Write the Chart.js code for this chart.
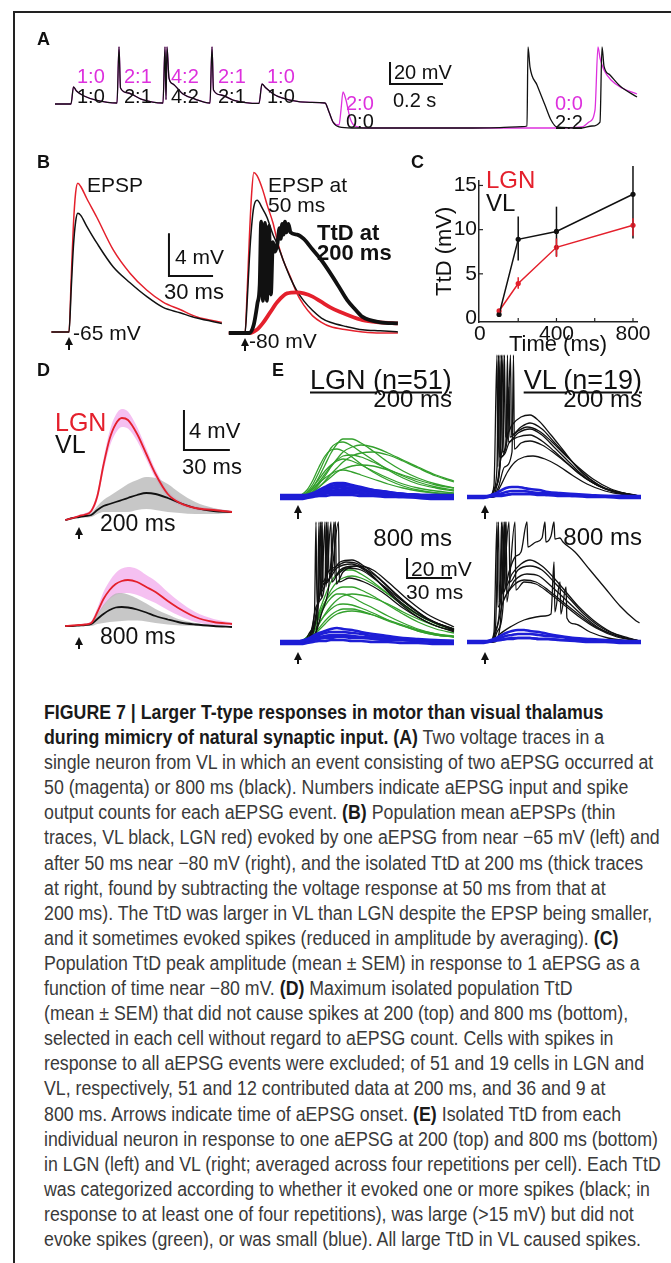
<!DOCTYPE html>
<html>
<head>
<meta charset="utf-8">
<title>Figure 7</title>
<script src="https://cdn.jsdelivr.net/npm/chart.js@4.4.1/dist/chart.umd.min.js"></script>
<style>
  html, body { margin: 0; padding: 0; background: #fff; }
  body { position: relative; width: 671px; height: 1263px; overflow: hidden; font-family: "Liberation Sans", Arial, Helvetica, sans-serif; color: #111; }
  #frame { position: absolute; left: 13px; top: 11px; width: 700px; height: 1300px; border-left: 2px solid #222; border-top: 2px solid #222; }
  canvas { position: absolute; }
  .lbl { position: absolute; white-space: nowrap; line-height: 1; transform: translateY(-50%); }
  #caption { position: absolute; left: 44px; top: 700px; line-height: 25.1px; white-space: nowrap; color: #3a3a3a; }
  #caption b { color: #1a1a1a; }
</style>
</head>
<body>
<div id="frame"></div>
<div id="caption"><b>FIGURE 7 | Larger T-type responses in motor than visual thalamus</b><br><b>during mimicry of natural synaptic input. (A)</b> Two voltage traces in a<br>single neuron from VL in which an event consisting of two aEPSG occurred at<br>50 (magenta) or 800 ms (black). Numbers indicate aEPSG input and spike<br>output counts for each aEPSG event. <b>(B)</b> Population mean aEPSPs (thin<br>traces, VL black, LGN red) evoked by one aEPSG from near −65 mV (left) and<br>after 50 ms near −80 mV (right), and the isolated TtD at 200 ms (thick traces<br>at right, found by subtracting the voltage response at 50 ms from that at<br>200 ms). The TtD was larger in VL than LGN despite the EPSP being smaller,<br>and it sometimes evoked spikes (reduced in amplitude by averaging). <b>(C)</b><br>Population TtD peak amplitude (mean ± SEM) in response to 1 aEPSG as a<br>function of time near −80 mV. <b>(D)</b> Maximum isolated population TtD<br>(mean ± SEM) that did not cause spikes at 200 (top) and 800 ms (bottom),<br>selected in each cell without regard to aEPSG count. Cells with spikes in<br>response to all aEPSG events were excluded; of 51 and 19 cells in LGN and<br>VL, respectively, 51 and 12 contributed data at 200 ms, and 36 and 9 at<br>800 ms. Arrows indicate time of aEPSG onset. <b>(E)</b> Isolated TtD from each<br>individual neuron in response to one aEPSG at 200 (top) and 800 ms (bottom)<br>in LGN (left) and VL (right; averaged across four repetitions per cell). Each TtD<br>was categorized according to whether it evoked one or more spikes (black; in<br>response to at least one of four repetitions), was large (&gt;15 mV) but did not<br>evoke spikes (green), or was small (blue). All large TtD in VL caused spikes.</div>
<script>
// ---------- dados ----------
// A: tensão (s, mV) - parte comum e finais diferentes
var aShared = [[0,-65],[0.0604,-65],[0.0698,-49.5],[0.0811,-53.2],[0.1094,-57.7],[0.1547,-61.4],[0.234,-64.1],[0.2415,-13],[0.2472,-50.5],[0.2755,-55],[0.3245,-60.5],[0.4075,-64.1],[0.4151,-13],[0.4189,-61],[0.4226,-13],[0.4302,-41.4],[0.4453,-46.8],[0.483,-55.9],[0.5283,-60.5],[0.5849,-64.1],[0.5925,-13],[0.5981,-52.3],[0.6264,-56.8],[0.6717,-61.4],[0.7698,-64.5],[0.7811,-46.8],[0.7962,-50.5],[0.8302,-56.8],[0.8868,-61.4],[0.9623,-63.6],[1.0189,-64.1]];
var aBlackTail = [[1.034,-72.3],[1.049,-81.4],[1.0717,-85.9],[1.1208,-86.8],[1.4906,-86.8],[1.6792,-86.4],[1.7623,-85.5],[1.7811,-85],[1.7849,-13],[1.7925,-31.4],[1.8189,-47.7],[1.849,-65.9],[1.8717,-79.5],[1.8943,-85.9],[1.9887,-86.8],[2.0264,-85],[2.0566,-81.4],[2.0642,-13],[2.0717,-30.5],[2.0943,-38.6],[2.1321,-48.6],[2.1962,-58.6]];
var aMagentaTail = [[1.034,-72.3],[1.049,-81.4],[1.0717,-84.1],[1.0792,-70.5],[1.0868,-54.1],[1.0981,-61.4],[1.1132,-77.7],[1.1321,-85],[1.1811,-86.8],[1.8679,-86.8],[1.9887,-85.9],[2.0151,-81.4],[2.0377,-70.5],[2.049,-13],[2.0566,-23.2],[2.0717,-34.1],[2.0981,-43.2],[2.1396,-50.5],[2.1962,-55.9]];
var aCounts50 = ['1:0', '2:1', '4:2', '2:1', '1:0'];
var aCounts800 = ['1:0', '2:1', '4:2', '2:1', '1:0'];

// B: aEPSP médios (ms, mV acima do repouso)
var bLeftT = [-12, 0, 1.5, 3, 4.5, 6, 8, 12, 19, 30, 41.5, 53, 64, 75.5, 87, 104];
var bLeftLgn = [0, 0, 5, 10, 13, 13.9, 13.6, 12.5, 10.7, 7.7, 5.5, 3.9, 2.8, 2.1, 1.4, 0.9];
var bLeftVl = [0, 0, 4, 8, 10.3, 11.1, 10.9, 9.9, 8.3, 6.1, 4.6, 3.3, 2.3, 1.8, 1.3, 0.8];
var bRightT = [-11, 0, 1.5, 3, 4.5, 6, 8.2, 12, 15, 19, 22, 26, 31, 35, 40, 46, 52, 58, 69, 80, 92, 104];
var bRightLgn = [0, 0, 4, 9, 13, 15, 14.7, 13.4, 12, 10.3, 8.6, 6.8, 5.2, 3.8, 2.6, 1.6, 1.0, 0.6, 0.3, 0.1, 0, 0];
var bRightVl = [0, 0, 3, 7, 10, 11.8, 12.4, 11.6, 10.8, 9.2, 8.3, 6.8, 5.1, 4.0, 3.0, 2.1, 1.4, 1.0, 0.6, 0.3, 0.2, 0.1];
var bTtdVl = [[-11,0],[3,0],[6,0.8],[8.5,2.8],[10,4.5],[11,10.4],[12.2,3],[13.6,10.3],[14.9,3],[16.3,10],[17.6,3.6],[19,8.5],[20.5,7.6],[22,8.3],[23.5,9.8],[24.3,8.8],[25.3,10.2],[26.2,9.2],[27.2,10.4],[28.2,9.4],[29.5,10.2],[31,9.4],[35.4,9.2],[40,8.8],[46,7.8],[52,6.8],[58,5.6],[64,4.3],[69.4,3.1],[75,2.2],[80,1.5],[92,1.0],[104,0.9]];
var bTtdLgn = [[-11,0],[3,0],[8,0.3],[12,0.9],[17,1.9],[22,2.9],[28.6,3.7],[35.4,3.8],[40,3.7],[46,3.4],[52,2.9],[58,2.4],[64,2.0],[69.4,1.7],[80,1.2],[92,1.0],[104,0.9]];

// C: pico do TtD (média e limites do SEM)
var cTime = [100, 200, 400, 800];
var cVlMean = [0.4, 8.9, 9.8, 14.0];
var cVlHi = [0.6, 11.5, 12.6, 17.6];
var cVlLo = [0.2, 6.5, 7.0, 9.0];
var cLgnMean = [0.8, 3.9, 8.0, 10.5];
var cLgnHi = [1.0, 4.6, 9.0, 11.3];
var cLgnLo = [0.6, 3.3, 6.9, 9.3];
var cYTicks = [0, 5, 10, 15];
var cXTicks = [0, 400, 800];
var cXMarks = [200, 400, 600, 800];

// D: TtD populacional (ms, mV) média e SEM
var dT = [-9, -4, 0, 4, 8, 12, 16, 20, 24, 28, 32, 38, 44, 50, 58, 66, 76, 88, 100];
var d200Lgn = [-0.1, 0.1, 0.3, 0.45, 0.8, 2.3, 5.4, 8.0, 9.5, 10.1, 9.9, 8.5, 6.5, 4.5, 2.5, 1.6, 1.1, 0.9, 0.7];
var d200LgnSem = [0.1, 0.1, 0.1, 0.15, 0.2, 0.4, 0.6, 0.8, 0.9, 0.9, 0.85, 0.7, 0.55, 0.45, 0.35, 0.25, 0.2, 0.15, 0.1];
var d200Vl = [-0.1, 0.1, 0.2, 0.3, 0.4, 0.9, 1.3, 1.5, 1.7, 1.9, 2.1, 2.4, 2.6, 2.5, 2.1, 1.6, 1.1, 0.8, 0.7];
var d200VlSem = [0.05, 0.05, 0.1, 0.15, 0.2, 0.4, 0.6, 0.8, 1.0, 1.2, 1.4, 1.5, 1.6, 1.6, 1.4, 1.0, 0.6, 0.3, 0.1];
var d800Lgn = [0, 0.05, 0.1, 0.15, 0.3, 1.4, 2.7, 3.6, 4.2, 4.5, 4.6, 4.4, 3.9, 3.4, 2.5, 1.7, 0.9, 0.4, 0.2];
var d800LgnSem = [0.05, 0.05, 0.05, 0.1, 0.2, 0.4, 0.7, 0.9, 1.1, 1.25, 1.3, 1.3, 1.2, 1.1, 0.9, 0.7, 0.5, 0.3, 0.15];
var d800Vl = [0, 0, 0.05, 0.1, 0.2, 0.7, 1.2, 1.6, 1.85, 1.9, 1.85, 1.65, 1.35, 1.0, 0.65, 0.35, 0.15, 0.0, -0.1];
var d800VlSem = [0, 0, 0.05, 0.1, 0.2, 0.5, 0.9, 1.2, 1.4, 1.4, 1.3, 1.1, 0.9, 0.7, 0.5, 0.3, 0.15, 0.05, 0];

// E: TtD de cada neurônio (ms, mV)
var eT = [-12, -2, 2, 6, 10, 14, 18, 22, 26, 30, 36, 42, 50, 60, 70, 80, 92, 104];
var eLgn200Green = [
  [0,0,1,4,10,20,32,44,53,58,58,54,46,35,26,19,13,9],
  [0,0,1,5,13,25,38,49,54,55,51,45,37,27,19,13,9,6],
  [0,0,0,2,6,13,21,30,38,45,50,52,50,44,37,30,22,16],
  [0,0,2,7,17,30,41,47,48,46,40,33,25,17,11,7,4,3],
  [0,0,0,2,5,10,16,23,29,35,41,44,45,42,36,29,21,15],
  [0,0,1,4,10,18,26,32,36,38,36,32,26,19,13,9,6,4],
  [0,0,0,2,5,10,15,20,25,28,31,32,31,27,22,17,12,9],
  [0,0,1,3,8,14,19,23,26,27,25,22,18,13,9,6,4,3],
  [0,0,1,3,8,15,23,31,37,41,42,40,35,28,21,15,10,7]
];
var eLgn200Blue = [
  [0,0,0,1,3,6,9,11,12,12,11,9,7,5,3,2,1,1],
  [0,0,0,1,2,4,6,8,9,10,9,8,6,4,3,2,1,1],
  [0,0,1,2,4,7,10,13,14,14,12,10,7,5,3,2,1,0],
  [1,1,1,1,2,3,4,5,6,6,6,5,4,3,2,2,1,1],
  [-1,-1,-1,0,1,2,3,4,4,4,4,3,2,1,0,0,-1,-1],
  [0,0,0,1,3,5,8,9,10,9,8,7,5,4,3,2,2,1],
  [2,2,2,2,3,4,5,6,7,7,6,5,4,3,3,2,2,2],
  [-2,-2,-2,-1,0,1,1,2,2,2,2,1,1,0,0,-1,-2,-2]
];
var eLgn800Green = [
  [0,0,1,4,12,26,40,52,60,64,66,64,58,48,38,28,19,13],
  [0,0,1,5,14,28,40,48,53,55,55,52,46,37,28,20,13,9],
  [0,0,0,3,9,18,28,36,42,46,48,47,44,38,30,23,16,11],
  [0,0,1,4,10,19,27,33,37,38,37,34,29,22,16,11,7,5],
  [0,0,0,2,7,14,21,27,31,33,33,31,27,21,16,11,7,5],
  [0,0,1,5,14,30,46,60,68,72,72,68,60,48,37,27,18,12],
  [0,0,1,4,12,24,36,44,48,48,45,40,34,26,19,13,8,5],
  [0,0,0,2,6,12,18,24,28,30,31,30,27,22,17,12,8,6]
];
var eLgn800Black = [
  [[-12,0],[4,0],[8,10],[11,30],[12,120],[12.6,40],[15,55],[16,120],[16.6,60],[20,70],[26,76],[32,80],[40,78],[50,66],[60,50],[70,36],[80,25],[92,16],[104,11]],
  [[-12,0],[6,0],[10,15],[13,40],[14,120],[14.6,50],[19,70],[20,120],[20.6,68],[28,80],[36,82],[44,76],[54,64],[64,50],[74,37],[86,24],[104,12]],
  [[-12,0],[5,0],[9,12],[12,35],[15,55],[16,120],[16.6,58],[22,68],[24,120],[24.6,66],[32,74],[42,72],[52,62],[62,50],[74,36],[88,22],[104,13]],
  [[-12,0],[8,0],[12,10],[16,30],[20,50],[25,120],[25.6,58],[30,70],[40,76],[50,72],[60,60],[72,44],[86,28],[104,15]],
  [[-12,0],[7,0],[11,14],[14,40],[18,60],[19,120],[19.6,62],[26,74],[36,78],[46,70],[58,54],[70,38],[84,24],[104,13]],
  [[-12,0],[6,0],[10,12],[13,36],[17,58],[22,66],[27,120],[27.6,60],[34,64],[44,60],[56,50],[70,34],[86,20],[104,10]],
  [[-12,0],[9,0],[13,20],[15,120],[15.6,45],[18,120],[18.6,55],[22,120],[22.6,60],[28,72],[38,76],[50,68],[62,52],[76,34],[90,20],[104,12]]
];
var eLgn800Blue = [
  [0,0,1,3,6,9,11,13,14,13,12,10,8,6,4,3,2,1],
  [0,0,0,2,4,7,9,10,10,10,9,8,6,5,3,2,1,1],
  [0,0,1,2,4,5,6,7,7,7,6,5,4,3,2,1,1,0],
  [-1,-1,0,1,2,3,4,4,5,5,4,4,3,2,2,1,0,-1],
  [1,1,1,2,3,4,5,5,6,6,5,5,4,3,2,2,1,1],
  [-2,-2,-2,-1,0,1,1,2,2,2,1,1,0,0,-1,-1,-2,-2]
];
var eVl200Black = [
  [[-12,0],[3,0],[6,8],[8,30],[9,142],[9.6,40],[12,55],[13,142],[13.6,60],[18,72],[24,80],[30,82],[36,76],[44,62],[52,47],[60,32],[68,20],[78,10],[90,4],[103,1]],
  [[-12,0],[4,0],[7,10],[10,35],[11,142],[11.6,45],[15,60],[17,142],[17.6,62],[24,70],[30,74],[38,68],[46,55],[54,42],[62,29],[70,18],[80,9],[92,4],[103,1]],
  [[-12,0],[5,0],[8,12],[11,40],[14,52],[15,142],[15.6,55],[22,64],[30,68],[38,62],[46,50],[54,38],[62,26],[70,16],[80,8],[92,3],[103,1]],
  [[-12,0],[4,0],[7,10],[10,30],[12,142],[12.6,42],[16,54],[22,60],[30,62],[38,56],[46,46],[54,35],[62,24],[72,14],[84,6],[103,1]],
  [[-12,0],[5,0],[9,10],[13,30],[18,45],[19,142],[19.6,48],[24,54],[30,56],[38,52],[46,44],[56,32],[66,20],[76,11],[88,5],[103,1]],
  [[-12,0],[6,0],[10,10],[15,25],[20,35],[26,40],[32,41],[40,38],[48,32],[58,22],[68,13],[80,6],[94,2],[103,1]],
  [[-12,0],[3,0],[6,12],[8,142],[8.6,30],[10,142],[10.6,40],[14,55],[16,110],[16.6,60],[22,66],[28,70],[36,66],[44,56],[52,44],[62,30],[72,18],[84,8],[96,3],[103,1]]
];
var eVl200Blue = [
  [0,0,1,3,6,9,10,10,9,8,7,5,4,3,2,1,1,0],
  [0,0,0,2,3,5,6,6,6,5,4,4,3,2,1,1,0,0],
  [-1,-1,0,1,1,2,3,3,3,3,2,2,1,1,0,0,-1,-1],
  [1,1,1,1,2,2,3,3,3,3,3,2,2,1,1,1,1,1]
];
var eVl800Black = [
  [[-12,0],[4,0],[7,15],[9,120],[9.6,40],[12,120],[12.6,50],[16,70],[20,85],[24,90],[28,120],[28.6,95],[34,100],[38,104],[40,120],[40.6,100],[44,106],[46,120],[46.6,103],[50,104],[52,100],[60,90],[70,72],[80,54],[90,36],[100,22],[103,19]],
  [[-12,0],[3,0],[6,10],[8,120],[8.6,35],[11,50],[13,120],[13.6,55],[18,68],[24,78],[30,82],[38,76],[46,64],[54,50],[62,36],[72,22],[84,10],[96,4],[103,1]],
  [[-12,0],[4,0],[7,12],[10,40],[11,120],[11.6,48],[16,120],[16.6,60],[22,72],[30,76],[38,72],[46,60],[56,44],[66,28],[78,14],[92,5],[103,1]],
  [[-12,0],[5,0],[8,10],[12,35],[14,120],[14.6,50],[20,62],[28,68],[36,66],[44,56],[54,42],[64,28],[76,14],[90,5],[103,1]],
  [[-12,0],[4,0],[8,14],[12,40],[18,55],[26,62],[34,60],[42,52],[52,40],[62,28],[74,15],[88,6],[103,1]],
  [[-12,0],[6,0],[10,15],[14,120],[14.6,40],[20,120],[20.6,52],[26,60],[34,58],[42,50],[52,38],[62,26],[74,14],[88,5],[103,1]],
  [[-12,0],[5,0],[10,8],[18,16],[26,22],[34,25],[40,26],[44,28],[46,80],[46.6,30],[50,60],[50.6,28],[54,55],[54.6,24],[60,18],[70,10],[82,4],[103,0]]
];
var eVl800Blue = [
  [0,0,1,3,6,9,11,12,12,11,10,8,6,4,3,2,1,0],
  [0,0,0,2,4,6,7,8,8,8,7,6,5,3,2,1,1,0],
  [-1,-1,0,1,2,3,4,4,4,4,3,3,2,1,0,0,-1,-1],
  [1,1,1,2,2,3,3,4,4,4,3,3,2,2,1,1,1,1]
];

// ---------- cores ----------
var RED = '#e4202c', MAGENTA = '#dd30dd', GREEN = '#33a02c', BLUE = '#1d1dd6', BLACK = '#111';

// ---------- auxiliares ----------
function pts(pairs) { return pairs.map(function(p) { return {x: p[0], y: p[1]}; }); }
function grid(ts, vs) { return ts.map(function(t, i) { return {x: t, y: vs[i]}; }); }
function ln(data, color, width, order) {
  return {data: data, borderColor: color, borderWidth: width, fill: false, pointRadius: 0,
          borderJoinStyle: 'round', order: order || 0};
}
function band(ts, mean, sem, color, order) {
  var none = 'rgba(0,0,0,0)';
  return [
    {data: grid(ts, mean.map(function(m, i) { return m + sem[i]; })), borderColor: none, borderWidth: 1, pointRadius: 0, fill: false, order: order},
    {data: grid(ts, mean.map(function(m, i) { return m - sem[i]; })), borderColor: none, borderWidth: 1, pointRadius: 0, fill: '-1', backgroundColor: color, order: order}
  ];
}

// barras de escala e setas de início, desenhadas com as escalas do gráfico
function marksPlugin(cfg) {
  return {
    id: 'marks',
    afterDatasetsDraw: function(chart) {
      var ctx = chart.ctx, xs = chart.scales.x, ys = chart.scales.y;
      ctx.save();
      ctx.strokeStyle = BLACK; ctx.fillStyle = BLACK;
      if (cfg.bar) {
        var b = cfg.bar;
        var px = xs.getPixelForValue(b.t), py = ys.getPixelForValue(b.v);
        ctx.lineWidth = 2;
        ctx.beginPath();
        ctx.moveTo(px, ys.getPixelForValue(b.v + b.dv));
        ctx.lineTo(px, py);
        ctx.lineTo(xs.getPixelForValue(b.t + b.dt), py);
        ctx.stroke();
      }
      if (cfg.arrow) {
        var a = cfg.arrow;
        var ax = Math.round(xs.getPixelForValue(0)), base = ys.getPixelForValue(0);
        ctx.lineWidth = 2;
        ctx.beginPath();
        ctx.moveTo(ax, base + a.tail);
        ctx.lineTo(ax, base + a.head + 5);
        ctx.stroke();
        ctx.beginPath();
        ctx.moveTo(ax, base + a.head);
        ctx.lineTo(ax - 4, base + a.head + 8);
        ctx.lineTo(ax + 4, base + a.head + 8);
        ctx.closePath();
        ctx.fill();
      }
      ctx.restore();
    }
  };
}

function tracePanel(box, org, datasets, marks) {
  var cv = document.createElement('canvas');
  cv.width = box.w; cv.height = box.h;
  cv.style.left = box.x + 'px'; cv.style.top = box.y + 'px';
  document.body.appendChild(cv);
  return new Chart(cv, {
    type: 'line',
    data: {datasets: datasets},
    options: {
      responsive: false, animation: false, events: [],
      layout: {padding: 0},
      plugins: {legend: {display: false}, tooltip: {enabled: false}},
      elements: {line: {cubicInterpolationMode: 'monotone'}},
      scales: {
        x: {type: 'linear', display: false, min: (box.x - org.x0) / org.sx, max: (box.x + box.w - org.x0) / org.sx},
        y: {type: 'linear', display: false, min: (org.y0 - box.y - box.h) / org.sy, max: (org.y0 - box.y) / org.sy}
      }
    },
    plugins: [marksPlugin(marks || {})]
  });
}

function label(text, x, y, size, opts) {
  opts = opts || {};
  var d = document.createElement('div');
  d.className = 'lbl';
  d.textContent = text;
  d.style.fontSize = size + 'px';
  d.style.top = y + 'px';
  if (opts.right) d.style.right = (671 - x) + 'px'; else d.style.left = x + 'px';
  if (opts.color) d.style.color = opts.color;
  if (opts.bold) d.style.fontWeight = 'bold';
  if (opts.underline) { d.style.textDecoration = 'underline'; d.style.textDecorationThickness = '1.5px'; d.style.textUnderlineOffset = '3px'; }
  document.body.appendChild(d);
}

// ---------- A ----------
tracePanel({x: 48, y: 40, w: 598, h: 100}, {x0: 55, sx: 265, y0: 32.5, sy: 1.1}, [
  ln(pts(aShared.concat(aMagentaTail)), MAGENTA, 1.3, 1),
  ln(pts(aShared.concat(aBlackTail)), BLACK, 1.3, 0)
], {bar: {t: 1.2642, v: -46.8, dt: 0.2, dv: 20}});

// ---------- B ----------
tracePanel({x: 48, y: 162, w: 182, h: 194}, {x0: 69, sx: 1.47, y0: 332, sy: 10.7}, [
  ln(grid(bLeftT, bLeftLgn), RED, 1.5, 1),
  ln(grid(bLeftT, bLeftVl), BLACK, 1.5, 0)
], {bar: {t: 68, v: 5.23, dt: 30, dv: 4}, arrow: {head: 5, tail: 18}});

tracePanel({x: 226, y: 162, w: 176, h: 194}, {x0: 245, sx: 1.47, y0: 333, sy: 10.7}, [
  ln(grid(bRightT, bRightLgn), RED, 1.5, 3),
  ln(grid(bRightT, bRightVl), BLACK, 1.5, 2),
  ln(pts(bTtdLgn), RED, 3.8, 1),
  ln(pts(bTtdVl), BLACK, 3.8, 0)
], {arrow: {head: 5, tail: 18}});

// ---------- C ----------
(function() {
  var cv = document.createElement('canvas');
  cv.width = 230; cv.height = 192;
  cv.style.left = '430px'; cv.style.top = '166px';
  document.body.appendChild(cv);
  var font = {family: '"Liberation Sans", Arial, sans-serif', size: 21};
  var errBars = {
    id: 'errBars',
    afterDatasetsDraw: function(chart) {
      var ctx = chart.ctx, xs = chart.scales.x, ys = chart.scales.y;
      ctx.save();
      ctx.lineWidth = 1.5;
      [[cVlHi, cVlLo, BLACK], [cLgnHi, cLgnLo, RED]].forEach(function(s) {
        ctx.strokeStyle = s[2];
        cTime.forEach(function(t, i) {
          var px = xs.getPixelForValue(t);
          ctx.beginPath();
          ctx.moveTo(px, ys.getPixelForValue(s[0][i]));
          ctx.lineTo(px, ys.getPixelForValue(s[1][i]));
          ctx.stroke();
        });
      });
      // marcas dos eixos para dentro
      ctx.strokeStyle = '#222'; ctx.lineWidth = 1.2;
      var left = chart.chartArea.left, bottom = chart.chartArea.bottom;
      cYTicks.slice(1).forEach(function(v) {
        var py = ys.getPixelForValue(v);
        ctx.beginPath(); ctx.moveTo(left, py); ctx.lineTo(left + 4, py); ctx.stroke();
      });
      cXMarks.forEach(function(v) {
        var px = xs.getPixelForValue(v);
        ctx.beginPath(); ctx.moveTo(px, bottom); ctx.lineTo(px, bottom - 4); ctx.stroke();
      });
      ctx.restore();
    }
  };
  new Chart(cv, {
    type: 'line',
    data: {datasets: [
      {data: grid(cTime, cVlMean), borderColor: BLACK, backgroundColor: BLACK, borderWidth: 1.5, pointRadius: 2.6, pointBorderWidth: 0},
      {data: grid(cTime, cLgnMean), borderColor: RED, backgroundColor: RED, borderWidth: 1.5, pointRadius: 2.6, pointBorderWidth: 0}
    ]},
    options: {
      responsive: false, animation: false, events: [],
      layout: {padding: {top: 12, right: 23, left: 0, bottom: 0}},
      plugins: {legend: {display: false}, tooltip: {enabled: false}},
      scales: {
        x: {
          type: 'linear', min: -5, max: 821,
          afterFit: function(s) { s.height = 36; },
          afterBuildTicks: function(s) { s.ticks = cXTicks.map(function(v) { return {value: v}; }); },
          ticks: {font: font, color: BLACK, padding: 0, maxRotation: 0, autoSkip: false},
          grid: {display: false, drawTicks: false},
          border: {color: '#222', width: 1.5},
          title: {display: true, text: 'Time (ms)', font: {family: font.family, size: 22}, color: BLACK, padding: 0}
        },
        y: {
          type: 'linear', min: -0.45, max: 15.55,
          afterFit: function(s) { s.width = 49; },
          afterBuildTicks: function(s) { s.ticks = cYTicks.map(function(v) { return {value: v}; }); },
          ticks: {font: font, color: BLACK, padding: 2, autoSkip: false},
          grid: {display: false, drawTicks: false},
          border: {color: '#222', width: 1.5},
          title: {display: true, text: 'TtD (mV)', font: {family: font.family, size: 22}, color: BLACK, padding: {top: 2, bottom: 0}}
        }
      }
    },
    plugins: [errBars]
  });
})();

// ---------- D ----------
tracePanel({x: 58, y: 395, w: 185, h: 150}, {x0: 79, sx: 1.53, y0: 519, sy: 10},
  band(dT, d200Lgn, d200LgnSem, 'rgba(238,150,232,0.6)', 5)
    .concat(band(dT, d200Vl, d200VlSem, 'rgba(180,180,180,0.75)', 4))
    .concat([ln(grid(dT, d200Vl), BLACK, 1.8, 1), ln(grid(dT, d200Lgn), RED, 1.8, 0)]),
  {bar: {t: 68.6, v: 6.9, dt: 30, dv: 4}, arrow: {head: 8, tail: 20}});

tracePanel({x: 58, y: 545, w: 185, h: 110}, {x0: 79, sx: 1.53, y0: 626, sy: 10},
  band(dT, d800Lgn, d800LgnSem, 'rgba(238,150,232,0.6)', 5)
    .concat(band(dT, d800Vl, d800VlSem, 'rgba(180,180,180,0.75)', 4))
    .concat([ln(grid(dT, d800Vl), BLACK, 1.8, 1), ln(grid(dT, d800Lgn), RED, 1.8, 0)]),
  {arrow: {head: 11, tail: 23}});

// ---------- E ----------
function eSets(greens, blacks, blues) {
  var s = [];
  greens.forEach(function(v) { s.push(ln(grid(eT, v), GREEN, 1.3, 3)); });
  blacks.forEach(function(p) { s.push(ln(pts(p), BLACK, 1.3, 2)); });
  blues.forEach(function(v) { s.push(ln(grid(eT, v), BLUE, 2.6, 1)); });
  return s;
}
tracePanel({x: 278, y: 350, w: 178, h: 175}, {x0: 298, sx: 1.5, y0: 497, sy: 1},
  eSets(eLgn200Green, [], eLgn200Blue), {arrow: {head: 8, tail: 22}});
tracePanel({x: 278, y: 505, w: 178, h: 165}, {x0: 298, sx: 1.5, y0: 642, sy: 1},
  eSets(eLgn800Green, eLgn800Black, eLgn800Blue), {bar: {t: 72.7, v: 64, dt: 30, dv: 20}, arrow: {head: 10, tail: 22}});
tracePanel({x: 464, y: 350, w: 182, h: 175}, {x0: 485, sx: 1.5, y0: 497, sy: 1},
  eSets([], eVl200Black, eVl200Blue), {arrow: {head: 8, tail: 22}});
tracePanel({x: 464, y: 505, w: 182, h: 165}, {x0: 485, sx: 1.5, y0: 642, sy: 1},
  eSets([], eVl800Black, eVl800Blue), {arrow: {head: 10, tail: 22}});

// ---------- textos ----------
label('A', 37, 39, 18, {bold: true});
label('B', 37, 162, 18, {bold: true});
label('C', 411, 162, 18, {bold: true});
label('D', 37, 370, 18, {bold: true});
label('E', 272, 370, 18, {bold: true});

var aLabelX = [77, 124, 171, 218, 267];
aCounts50.forEach(function(s, i) { label(s, aLabelX[i], 76, 20, {color: MAGENTA}); });
aCounts800.forEach(function(s, i) { label(s, aLabelX[i], 96, 20); });
label('2:0', 346, 103, 20, {color: MAGENTA});
label('0:0', 346, 121, 20);
label('0:0', 555, 103, 20, {color: MAGENTA});
label('2:2', 555, 122, 20);
label('20 mV', 394, 72, 20);
label('0.2 s', 393, 100, 20);

label('EPSP', 87, 184, 21);
label('-65 mV', 73, 332, 21);
label('4 mV', 175, 256, 21);
label('30 ms', 164, 292, 22);
label('EPSP at', 268, 184, 21);
label('50 ms', 268, 204, 21);
label('TtD at', 317, 233, 22, {bold: true});
label('200 ms', 317, 253, 22, {bold: true});
label('-80 mV', 249, 340, 21);

label('LGN', 486, 180, 24, {color: RED});
label('VL', 486, 203, 24);

label('LGN', 55, 422, 25, {color: RED});
label('VL', 55, 444, 25);
label('4 mV', 189, 431, 22);
label('30 ms', 182, 467, 22);
label('200 ms', 100, 523, 23);
label('800 ms', 100, 636, 23);

label('LGN (n=51)', 310, 380, 27, {underline: true});
label('200 ms', 452, 399, 24, {right: true});
label('800 ms', 452, 538, 24, {right: true});
label('20 mV', 411, 568, 21);
label('30 ms', 406, 591, 21);
label('VL (n=19)', 642, 380, 27, {underline: true, right: true});
label('200 ms', 642, 399, 24, {right: true});
label('800 ms', 642, 537, 24, {right: true});

// ---------- legenda (fonte condensada ajustada à largura) ----------
function hasFont(name) {
  var c = document.createElement('canvas').getContext('2d');
  var s = 'abcdefghijklmnopqrstuvwxyz ABCDEFGHIJ';
  c.font = '20px monospace';
  var w0 = c.measureText(s).width;
  c.font = '20px "' + name + '", monospace';
  return c.measureText(s).width !== w0;
}
var cap = document.getElementById('caption');
var narrow = hasFont('Liberation Sans Narrow');
cap.style.fontFamily = narrow ? '"Liberation Sans Narrow", sans-serif' : '"Liberation Sans", sans-serif';
cap.style.fontSize = '20px';
var capW = cap.offsetWidth;
if (narrow) {
  cap.style.fontSize = (20 * 617 / capW).toFixed(2) + 'px';
} else {
  cap.style.transformOrigin = '0 0';
  cap.style.transform = 'scaleX(' + (617 / capW).toFixed(4) + ')';
}
</script>
</body>
</html>
